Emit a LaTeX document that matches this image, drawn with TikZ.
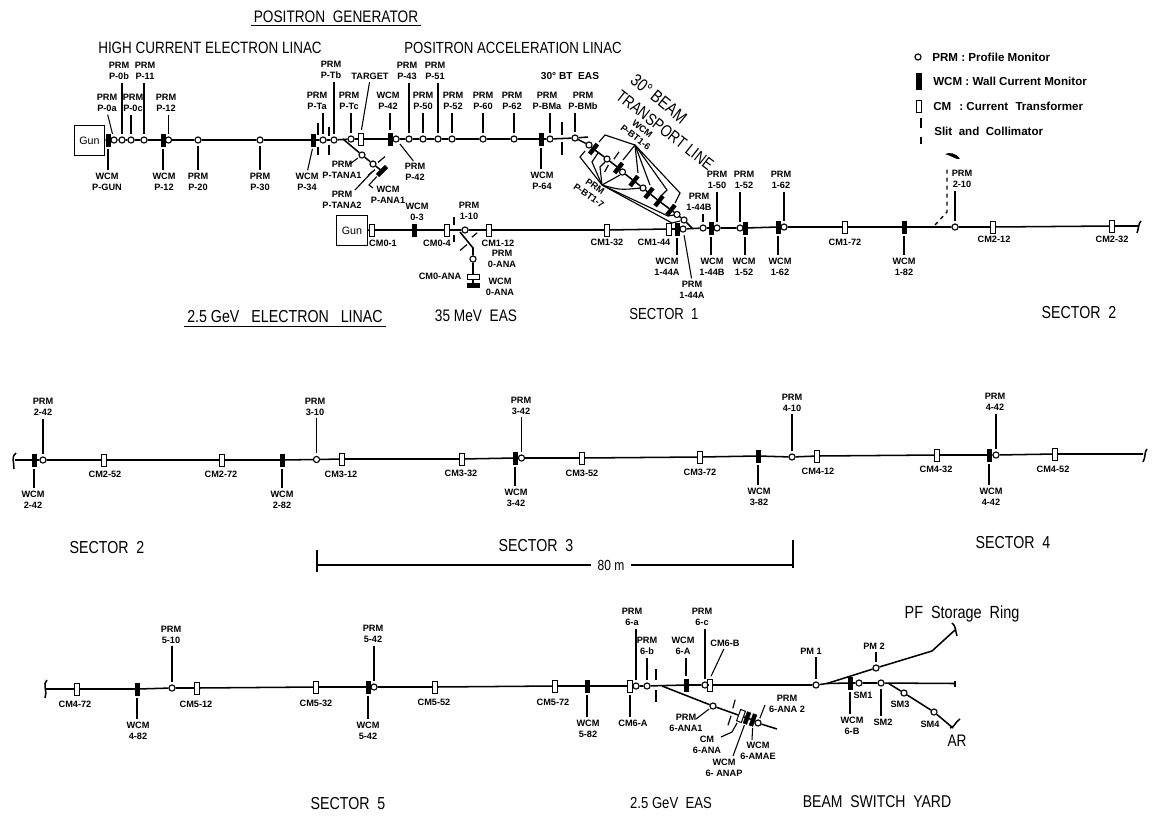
\documentclass[tikz,border=0pt]{standalone}
\usepackage{fontspec}
\setmainfont{Liberation Sans}
\newfontfamily\hdf[FakeStretch=0.82]{Liberation Sans}
\tikzset{
 prmn/.style={circle,draw,inner sep=0pt,minimum size=4.6pt,line width=.85pt},
 wcmn/.style={rectangle,draw,fill=black,inner sep=0pt,minimum width=3pt,minimum height=9.2pt,line width=.2pt},
 cmn/.style={rectangle,draw,inner sep=0pt,minimum width=3.8pt,minimum height=9pt,line width=.75pt},
 slitn/.style={rectangle,fill=black,inner sep=0pt,minimum width=.9pt},
 lbl/.style={align=center,inner sep=0pt,font=\bfseries\fontsize{6.9}{8.3}\selectfont},
 hd/.style={inner sep=2pt,font=\hdf\fontsize{#1}{#1}\selectfont},
 leg/.style={inner sep=0pt,anchor=west,font=\bfseries\fontsize{8.7}{10}\selectfont},
 gunb/.style={rectangle,draw,line width=.9pt,minimum size=23pt,inner sep=0pt,font=\fontsize{8}{9}\selectfont},
 beam/.style={line width=1.15pt},
 lead/.style={line width=.8pt,shorten <=2pt,shorten >=2pt},
 leadf/.style={line width=.8pt,shorten >=1pt},
 thin1/.style={line width=.85pt}
}
\newcommand\PR[3]{\node[prmn] (#1) at (#2,#3) {};}
\newcommand\WC[4][]{\node[wcmn,#1] (#2) at (#3,#4) {};}
\newcommand\CT[4][]{\node[cmn,#1] (#2) at (#3,#4) {};}
\newcommand\SL[5][0]{\node[slitn,minimum height=#5*0.75pt,rotate=#1] (#2) at (#3,#4) {};}
\newcommand\LB[5][]{\node[lbl,#1] (#2) at (#3,#4) {#5};}
\newcommand\UP[2]{\draw[lead] (#1.north) -- (#1.north |- #2.south);}
\newcommand\DN[2]{\draw[lead] (#1.south) -- (#1.south |- #2.north);}
\newcommand\LF[4]{\coordinate (#1) at (#2,#3); \draw[leadf] (#1) -- (#4);}
\begin{document}
\begin{tikzpicture}[x=0.75pt,y=-0.75pt]
\useasboundingbox (0,0) rectangle (1153,815);
% ---------- headings
\node[hd=12.5] (tPos) at (336,17) {POSITRON\ \ GENERATOR};
\draw[thin1] (tPos.south west) -- (tPos.south east);
\node[hd=12.3] (tHigh) at (210,48) {HIGH CURRENT ELECTRON LINAC};
\node[hd=12.1] (tAcc) at (513,48) {POSITRON ACCELERATION LINAC};
\node[hd=13] (tLin) at (285,317) {2.5 GeV\hspace{9pt}ELECTRON\hspace{9pt}LINAC};
\draw[thin1] (tLin.south west) -- (tLin.south east);
\node[hd=12.5] (t35) at (476,316) {35 MeV\ \ EAS};
\node[hd=12] (tS1) at (664,314) {SECTOR\ \ 1};
\node[hd=13] (tS2a) at (1079,313) {SECTOR\ \ 2};
\node[hd=13] (tS2b) at (107,548) {SECTOR\ \ 2};
\node[hd=13] (tS3) at (536,546) {SECTOR\ \ 3};
\node[hd=13] (tS4) at (1013,543) {SECTOR\ \ 4};
\node[hd=13] (tS5) at (348,804) {SECTOR\ \ 5};
\node[hd=12] (tE25) at (671,803) {2.5 GeV\ \ EAS};
\node[hd=12.8] (tBSY) at (877,802) {BEAM\ \ SWITCH\ \ YARD};
\node[hd=13.2] (tPF) at (962,614) {PF\ \ Storage\ \ Ring};
\node[hd=12.5] (tAR) at (957,741) {AR};
\node[hd=13.1,rotate=-39] (t30) at (659,99) {30\textdegree\ BEAM};
\node[hd=12.5,rotate=-38] (tTr) at (665,130) {TRANSPORT LINE};
% ---------- legend
\node[prmn] (legP) at (918,57) {};
\node[leg] (legPt) at (932,57) {PRM : Profile Monitor};
\node[wcmn,minimum height=12pt,minimum width=3.6pt] (legW) at (919,81) {};
\node[leg] (legWt) at (933,81) {WCM : Wall Current Monitor};
\node[cmn] (legC) at (919,106) {};
\node[leg] (legCt) at (933,106) {CM\hspace{6pt}: Current\hspace{3pt} Transformer};
\SL{legS1}{921}{123}{10}
\SL{legS2}{921}{140}{7}
\node[leg] (legSt) at (934,131) {Slit\ \ and\ \ Collimator};
% ---------- row 1: high current linac
\node[gunb] (gunA) at (89.5,140.5) {Gun};
\WC{wPG}{108}{140}
\PR{pOa}{114}{140}\PR{pOb}{122}{140}\PR{pOc}{131}{140}\PR{pEl}{144}{140}
\WC{wPd}{163}{140}\PR{pTw}{168.5}{140}\PR{pTt}{198}{140}\PR{pTh}{260}{140}
\WC{wPf}{313}{140}
\SL{sA1}{318}{129}{12}\SL{sA2}{318}{151}{8}
\PR{pTa}{323}{140}
\SL{sB1}{329}{131}{9}\SL{sB2}{329}{150}{10}
\PR{pTb}{334}{140}\PR{pTc}{351}{139}
\CT{cTg}{361}{139}
\WC{wPq}{390}{139}\PR{pFt}{396}{139}
\PR{pFf}{409}{139}\PR{pFi}{423}{139}\PR{pFo}{438}{139}\PR{pFs}{452}{139}
\PR{pSi}{483}{139}\PR{pSt}{514}{139}
\WC{wPs}{541}{139}\PR{pBa}{550}{139}
\SL{sC1}{562}{128}{13}\SL{sC2}{562}{148}{13}
\PR{pBb}{575}{138}
\coordinate (rowAend) at (588,137);
\draw[beam] (gunA) -- (wPG) -- (pOa) -- (pOb) -- (pOc) -- (pEl) -- (wPd) -- (pTw) -- (pTt) -- (pTh) -- (wPf) -- (pTa) -- (pTb) -- (pTc) -- (cTg) -- (wPq) -- (pFt) -- (pFf) -- (pFi) -- (pFo) -- (pFs) -- (pSi) -- (pSt) -- (wPs) -- (pBa) -- (pBb) -- (rowAend);
% labels row 1
\LB{lOa}{107}{103}{PRM\\P-0a}\LB{lOb}{119}{71}{PRM\\P-0b}\LB{lOc}{133}{103}{PRM\\P-0c}
\LB{lEl}{145}{71}{PRM\\P-11}\LB{lTw}{166}{103}{PRM\\P-12}
\LB{lwPG}{107}{182}{WCM\\P-GUN}\LB{lwPd}{164}{182}{WCM\\P-12}\LB{lTt}{198}{182}{PRM\\P-20}
\LB{lTh}{260}{182}{PRM\\P-30}\LB{lwPf}{307}{182}{WCM\\P-34}
\LB{lTa}{317}{101}{PRM\\P-Ta}\LB{lTb}{331}{70}{PRM\\P-Tb}\LB{lTc}{349}{101}{PRM\\P-Tc}
\LB{lTg}{370}{76}{TARGET}\LB{lwPq}{388}{101}{WCM\\P-42}
\LB{lFf}{407}{71}{PRM\\P-43}\LB{lFi}{423}{101}{PRM\\P-50}\LB{lFo}{435}{71}{PRM\\P-51}
\LB{lFs}{453}{101}{PRM\\P-52}\LB{lSi}{483}{101}{PRM\\P-60}\LB{lSt}{512}{101}{PRM\\P-62}
\LB{lBa}{547}{101}{PRM\\P-BMa}\LB{lBb}{583}{101}{PRM\\P-BMb}
\LB{lFt}{415}{172}{PRM\\P-42}\LB{lwPs}{542}{181}{WCM\\P-64}
\node[lbl,font=\bfseries\fontsize{7.6}{9}\selectfont] (lBT) at (570,76) {30\textdegree\ BT\ \ EAS};
\draw[lead] (lOa.south) -- (pOa);
\UP{pOb}{lOb}\UP{pOc}{lOc}\UP{pEl}{lEl}\UP{pTw}{lTw}
\DN{wPG}{lwPG}\DN{wPd}{lwPd}\DN{pTt}{lTt}\DN{pTh}{lTh}
\draw[lead] (wPf.south) -- (lwPf.north);
\UP{pTa}{lTa}\UP{pTb}{lTb}\UP{pTc}{lTc}
\draw[lead] (lTg.south) -- (cTg.north);
\UP{wPq}{lwPq}\UP{pFf}{lFf}\UP{pFi}{lFi}\UP{pFo}{lFo}\UP{pFs}{lFs}\UP{pSi}{lSi}\UP{pSt}{lSt}\UP{pBa}{lBa}\UP{pBb}{lBb}
\draw[lead] (pFt) -- (lFt.north);
\DN{wPs}{lwPs}
% target analyser branch
\coordinate (brT) at (343,139);
\PR{pTA}{362}{155}\PR{pTB}{373}{164}
\WC[rotate=-45]{wANA}{382}{171}
\draw[beam] (brT) -- (pTA) -- (pTB) -- (wANA);
\SL[-50]{sT1}{381.5}{159.5}{9}\SL[-50]{sT2}{371.5}{172.5}{9}
\LB{lTA}{342}{170}{PRM\\P-TANA1}\LB{lTB}{342}{200}{PRM\\P-TANA2}\LB{lANA}{388}{195}{WCM\\P-ANA1}
\LF{cTA}{350}{164}{pTA}
\coordinate (cTBa) at (355,190); \coordinate (cTBb) at (372,172);
\draw[thin1] (cTBa) -- (cTBb);
\coordinate (cWa) at (373,188); \coordinate (cWb) at (369,185);
\draw[leadf] (cWa) -- (cWb) -- (wANA);
% ---------- row 2 : 35 MeV / sector 1
\node[gunb] (gunB) at (352,230.5) {Gun};
\CT{cMa}{372}{230}\WC{wOt}{414}{230}\CT{cMd}{447}{230}
\SL{sD1}{454}{221}{8}\SL{sD2}{454}{238.5}{7}
\PR{pIt}{465}{230}\CT{cTwl}{489}{230}\CT{cTtw}{607}{230}
\CT{cFf}{669}{229}\WC{wFa}{677}{229}\PR{pFa}{683}{229}\PR{pFb}{703}{228}\WC{wFb}{711}{228}
\PR{pFz}{717}{228}\PR{pFy}{740}{228}\WC{wFy}{745}{228}\WC{wSt}{778}{227}\PR{pSz}{784}{227}
\CT{cSs}{845}{227}\WC{wEi}{904}{227}\PR{pTt2}{955}{227}\CT{cTwo}{993}{227}\CT{cTtt}{1112}{226}
\coordinate (rowBend) at (1139,226);
\draw[beam] (gunB) -- (cMa) -- (wOt) -- (cMd) -- (pIt) -- (cTwl) -- (cTtw) -- (cFf) -- (wFa) -- (pFa) -- (pFb) -- (wFb) -- (pFz) -- (pFy) -- (wFy) -- (wSt) -- (pSz) -- (cSs) -- (wEi) -- (pTt2) -- (cTwo) -- (cTtt) -- (rowBend);
\draw[beam] (1141,221) .. controls (1138,224) and (1139,228) .. (1137,233);
\LB{lwOt}{417}{212}{WCM\\0-3}\LB{lIt}{469}{211}{PRM\\1-10}
\LB{lcMa}{383}{243}{CM0-1}\LB{lcMd}{437}{243}{CM0-4}\LB{lcTwl}{498}{243}{CM1-12}
\LB{lcTtw}{607}{242}{CM1-32}\LB{lcFf}{654}{242}{CM1-44}
\LB{lwFa}{667}{267}{WCM\\1-44A}\LB{lpFa}{692}{290}{PRM\\1-44A}
\LB{lFb}{699}{202}{PRM\\1-44B}\LB{lFz}{717}{180}{PRM\\1-50}\LB{lFy}{744}{180}{PRM\\1-52}\LB{lSz}{781}{180}{PRM\\1-62}
\LB{lwFb}{712}{267}{WCM\\1-44B}\LB{lwFy}{744}{267}{WCM\\1-52}\LB{lwSt}{780}{267}{WCM\\1-62}
\LB{lcSs}{845}{242}{CM1-72}\LB{lwEi}{904}{267}{WCM\\1-82}\LB{lTt2}{962}{179}{PRM\\2-10}
\LB{lcTwo}{994}{239}{CM2-12}\LB{lcTtt}{1112}{239}{CM2-32}
\DN{wFa}{lwFa}\draw[lead] (pFa) -- (lpFa.north);
\UP{pFb}{lFb}\UP{pFz}{lFz}\UP{pFy}{lFy}\UP{pSz}{lSz}
\DN{wFb}{lwFb}\DN{wFy}{lwFy}\DN{wSt}{lwSt}\DN{wEi}{lwEi}\UP{pTt2}{lTt2}
% dashed line at PRM 2-10
\coordinate (daA) at (935,225); \coordinate (daB) at (947,212); \coordinate (daC) at (947,167);
\draw[line width=1pt,dashed] (daA) -- (daB) -- (daC);
\fill (945,154) .. controls (950,152) and (956,153) .. (960,159) .. controls (956,160) and (950,155) .. cycle;
% 0-ANA branch
\coordinate (brO) at (460,232); \coordinate (brOb) at (473,248);
\PR{pOA}{473}{259}
\WC[minimum width=9pt,minimum height=3pt]{wOA}{473}{285}
\CT[minimum width=9pt,minimum height=3.6pt]{cOA}{473}{277}
\draw[beam] (brO) -- (brOb) -- (pOA) -- (cOA) -- (wOA);
\SL[-50]{sO1}{463.5}{247.5}{9}\SL[-50]{sO2}{474.5}{235}{7}
\LB{lOAp}{502}{259}{PRM\\0-ANA}\LB{lOAc}{440}{276}{CM0-ANA}\LB{lOAw}{500}{287}{WCM\\0-ANA}
% ---------- 30 degree transport line
\PR{bA}{589}{145}\WC[rotate=-38]{bB}{593.5}{149}\PR{bC}{607}{159}\WC[rotate=-38]{bD}{618.5}{168}
\PR{bE}{622.5}{172}\WC[rotate=-38]{bF}{634}{181}\PR{bG}{643}{188}\WC[rotate=-38]{bH}{649}{193}
\WC[rotate=-38]{bI}{659}{201}\WC[rotate=-38]{bJ}{671}{210}\PR{bK}{677}{214.5}\PR{bL}{684}{220}
\coordinate (bEnd) at (692,228);
\draw[beam] (pBb) -- (bA) -- (bB) -- (bC) -- (bD) -- (bE) -- (bF) -- (bG) -- (bH) -- (bI) -- (bJ) -- (bK) -- (bL) -- (bEnd);
\SL[-35]{sP1}{616.5}{155.5}{9}\SL[-28]{sP2}{606.5}{168.5}{8}
\LB[rotate=-38]{lBTw}{639}{133}{WCM\\P-BT1-6}
\LB[rotate=-35]{lBTp}{592}{191}{PRM\\P-BT1-7}
% WCM fan
\coordinate (fW) at (635,145);
\coordinate (fW1) at (605,135);\coordinate (fW1e) at (599,142);
\draw[thin1] (fW1e) -- (fW1) -- (fW);
\coordinate (fW2) at (623,160); \draw[thin1] (fW) -- (fW2);
\coordinate (fW3) at (638,173); \draw[thin1] (fW) -- (fW3);
\coordinate (fW4) at (650,185); \draw[thin1] (fW) -- (fW4);
\coordinate (fW5) at (667,190);\coordinate (fW5e) at (660,197); \draw[thin1] (fW) -- (fW5) -- (fW5e);
\coordinate (fW6) at (680,193);\coordinate (fW6e) at (675,203); \draw[thin1] (fW) -- (fW6) -- (fW6e);
% PRM fan
\coordinate (fP) at (602,185);
\coordinate (fP1) at (580,157);\coordinate (fP1e) at (585,151); \draw[thin1] (fP) -- (fP1) -- (fP1e);
\coordinate (fP2) at (592,162);\coordinate (fP2e) at (598,153); \draw[thin1] (fP) -- (fP2) -- (fP2e);
\coordinate (fP3) at (600,167);\coordinate (fP3e) at (605,162); \draw[thin1] (fP) -- (fP3) -- (fP3e);
\coordinate (fP4) at (620,175); \draw[thin1] (fP) -- (fP4);
\coordinate (fP5) at (620,190);\coordinate (fP5e) at (641,188); \draw[thin1] (fP) .. controls (fP5) and (fP5) .. (fP5e);
\coordinate (fP6) at (668,216);\coordinate (fP6e) at (674,215); \draw[thin1] (fP) -- (fP6) -- (fP6e);
\coordinate (fP7) at (672,223);\coordinate (fP7e) at (680,221); \draw[thin1] (fP) -- (fP7) -- (fP7e);
% ---------- row 3
\coordinate (rCs) at (15,460);\coordinate (rCe) at (1143,454);
\WC{wTf}{34}{460}\PR{pTf}{43}{460}\CT{cTfv}{104}{460}\CT{cTsv}{222}{460}\WC{wTe}{282}{460}
\PR{pHt}{316.5}{459.5}\CT{cHo}{342}{459}\CT{cHt}{462}{459}\WC{wHf}{515}{458}\PR{pHf}{521.5}{458}
\CT{cHv}{582}{458}\CT{cHs}{700}{457}\WC{wHe}{758}{456}\PR{pQt}{792}{457}\CT{cQo}{817}{456}
\CT{cQt}{937}{455}\WC{wQf}{989}{455}\PR{pQf}{996}{455}\CT{cQv}{1055}{454}
\draw[beam] (rCs) -- (wTf) -- (pTf) -- (cTfv) -- (cTsv) -- (wTe) -- (pHt) -- (cHo) -- (cHt) -- (wHf) -- (pHf) -- (cHv) -- (cHs) -- (wHe) -- (pQt) -- (cQo) -- (cQt) -- (wQf) -- (pQf) -- (cQv) -- (rCe);
\draw[beam] (16,453) .. controls (11,456) and (14,462) .. (14,469);
\draw[beam] (1147,449) .. controls (1144,452) and (1146,457) .. (1143,462);
\LB{lpTf}{43}{407}{PRM\\2-42}\LB{lwTf}{33}{500}{WCM\\2-42}\LB{lcTfv}{105}{474}{CM2-52}\LB{lcTsv}{221}{474}{CM2-72}
\LB{lwTe}{282}{500}{WCM\\2-82}\LB{lpHt}{315}{406.5}{PRM\\3-10}\LB{lcHo}{341}{474}{CM3-12}
\LB{lcHt}{461}{473}{CM3-32}\LB{lpHf}{521}{405.5}{PRM\\3-42}\LB{lwHf}{516}{498}{WCM\\3-42}
\LB{lcHv}{582}{473}{CM3-52}\LB{lcHs}{700}{472}{CM3-72}\LB{lwHe}{759}{497}{WCM\\3-82}
\LB{lpQt}{792}{402.5}{PRM\\4-10}\LB{lcQo}{818}{471}{CM4-12}\LB{lcQt}{936}{469}{CM4-32}
\LB{lpQf}{995}{402}{PRM\\4-42}\LB{lwQf}{991}{497}{WCM\\4-42}\LB{lcQv}{1053}{469}{CM4-52}
\UP{pTf}{lpTf}\DN{wTf}{lwTf}\DN{wTe}{lwTe}\UP{pHt}{lpHt}\UP{pHf}{lpHf}\DN{wHf}{lwHf}\DN{wHe}{lwHe}
\UP{pQt}{lpQt}\UP{pQf}{lpQf}\DN{wQf}{lwQf}
% ---------- 80 m
\node[hd=11,inner sep=5pt] (dimT) at (611,565) {80 m};
\SL{dimL}{317}{561}{22}\SL{dimR}{793}{554}{28}
\draw[thin1] (dimL |- dimT) -- (dimT) -- (dimR |- dimT);
% ---------- row 4
\coordinate (rDs) at (46,689);
\CT{cFsv}{77}{689}\WC{wFe}{137}{689}\PR{pVt}{172}{688}\CT{cVo}{197}{688}\CT{cVt}{316}{687}
\WC{wVf}{368}{687}\PR{pVf}{374}{687}\CT{cVv}{435}{687}\CT{cVs}{555}{686}\WC{wVe}{587}{686}
\CT{cXa}{630}{686}\PR{pXa}{636}{686}\PR{pXb}{647}{686}
\SL{sX1}{656}{674.5}{11}\SL{sX2}{656}{696}{12}
\WC{wXa}{686}{685}\PR{pXc}{705}{685}\CT{cXb}{710}{685}\PR{pPa}{816}{685}
\coordinate (yard) at (827,683.5);
\draw[beam] (rDs) -- (cFsv) -- (wFe) -- (pVt) -- (cVo) -- (cVt) -- (wVf) -- (pVf) -- (cVv) -- (cVs) -- (wVe) -- (cXa) -- (pXa) -- (pXb) -- (wXa) -- (pXc) -- (cXb) -- (pPa) -- (yard);
\draw[beam] (47,680) .. controls (42,684) and (48,692) .. (45,698);
\LB{lcFsv}{75}{704}{CM4-72}\LB{lwFe}{138}{731}{WCM\\4-82}\LB{lpVt}{171}{634.5}{PRM\\5-10}
\LB{lcVo}{196}{704}{CM5-12}\LB{lcVt}{316}{703}{CM5-32}\LB{lpVf}{373}{634}{PRM\\5-42}\LB{lwVf}{368}{731}{WCM\\5-42}
\LB{lcVv}{434}{702}{CM5-52}\LB{lcVs}{553}{702}{CM5-72}\LB{lwVe}{588}{729}{WCM\\5-82}
\LB{lcXa}{633}{723}{CM6-A}\LB{lpXa}{632}{617}{PRM\\6-a}\LB{lpXb}{647}{646}{PRM\\6-b}
\LB{lwXa}{683}{646}{WCM\\6-A}\LB{lpXc}{702}{617}{PRM\\6-c}\LB{lcXb}{725}{643}{CM6-B}
\DN{wFe}{lwFe}\UP{pVt}{lpVt}\UP{pVf}{lpVf}\DN{wVf}{lwVf}\DN{wVe}{lwVe}\DN{cXa}{lcXa}
\UP{pXa}{lpXa}\UP{pXb}{lpXb}\UP{wXa}{lwXa}\UP{pXc}{lpXc}
\draw[lead] (lcXb.south) -- (cXb.north);
% 6-ANA branch
\coordinate (brX) at (662,686);\coordinate (brXe) at (777,729);
\PR{pAo}{713}{706}\CT[rotate=-20]{cAn}{741}{716}\WC[rotate=-20]{wAp}{747}{718}\WC[rotate=-20]{wAe}{753}{720}\PR{pAt}{758}{723}
\draw[beam] (brX) -- (pAo) -- (cAn) -- (wAp) -- (wAe) -- (pAt) -- (brXe);
\SL[-15]{sY1}{734}{704}{9}\SL[-18]{sY2}{729.5}{720.5}{10}
\LB{lpAo}{686}{723}{PRM\\6-ANA1}\LB{lcAn}{707}{745}{CM\\6-ANA}\LB{lwAp}{724}{767.5}{WCM\\6- ANAP}
\LB{lwAe}{758}{751}{WCM\\6-AMAE}\LB{lpAt}{787}{704}{PRM\\6-ANA 2}
\LF{cAo}{696}{719}{pAo}
\coordinate (cCa) at (721,737);\coordinate (cCb) at (732,732);\coordinate (cCc) at (737,723);
\draw[thin1] (cCa) -- (cCb) -- (cCc);
\LF{cWp}{733}{756}{wAp}\LF{cWe}{752}{740}{wAe}\LF{cPt}{765}{705}{pAt}
% beam switch yard
\PR{pPb}{876}{668}
\coordinate (pfA) at (932,651);\coordinate (pfB) at (955,630);
\draw[beam] (yard) -- (pPb) -- (pfA) -- (pfB);
\draw[beam] (952,623) .. controls (956,626) and (955,630) .. (957,636);
\WC{wXb}{850}{683}\PR{pSa}{859}{683}\PR{pSb}{881}{683}\PR{pSc}{904}{693}\PR{pSd}{934}{712}
\coordinate (yardE) at (955,683.5);\coordinate (arS) at (888,683);\coordinate (arE) at (953,728);
\draw[beam] (yard) -- (wXb) -- (pSa) -- (pSb) -- (yardE);
\draw[beam] (955,680.5) -- (955,686.5);
\draw[beam] (arS) -- (pSc) -- (pSd) -- (arE);
\draw[beam] (950,728) .. controls (955,727) and (955,722) .. (960,719);
\LB{lPa}{811}{651}{PM 1}\LB{lPb}{874}{646}{PM 2}\LB{lSa}{863}{695}{SM1}\LB{lSb}{883}{722}{SM2}
\LB{lSc}{900}{704}{SM3}\LB{lSd}{930}{724}{SM4}\LB{lwXb}{852}{726}{WCM\\6-B}
\UP{pPa}{lPa}\UP{pPb}{lPb}\DN{wXb}{lwXb}\DN{pSb}{lSb}
\end{tikzpicture}
\end{document}
